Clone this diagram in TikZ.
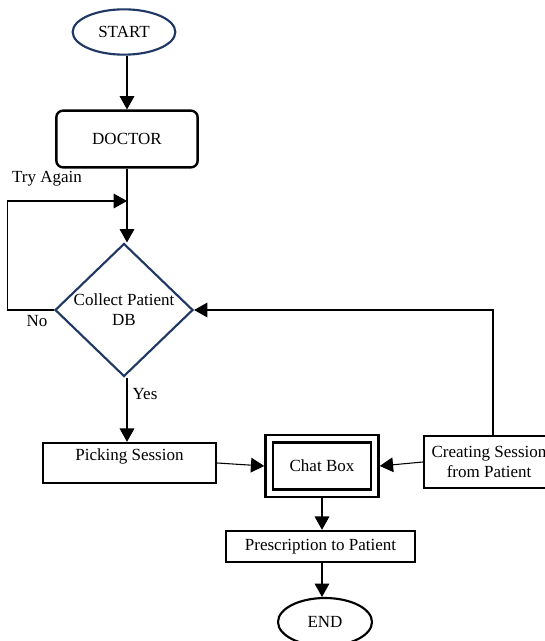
\documentclass[tikz,border=0pt]{standalone}
\usepackage{fontspec}
\setmainfont{Liberation Serif}
\usetikzlibrary{shapes.geometric,arrows.meta}
\definecolor{navy}{RGB}{31,56,100}

\begin{document}
\begin{tikzpicture}[x=0.75pt,y=-0.75pt,
		font=\fontsize{12.75}{15}\selectfont,
		flow/.style={-{Triangle[length=10pt,width=11pt]},line width=0.8pt},
		terminal/.style={ellipse,draw,line width=1.6pt,inner sep=0pt},
		box/.style={rectangle,draw,line width=1.8pt,inner sep=0pt,align=center}]
				\useasboundingbox (0,0) rectangle (544,641);
				% nodes
				\node[terminal,draw=navy,minimum width=77pt,minimum height=34pt] (start) at (124,32) {START};
				\node[box,rounded corners=5pt,minimum width=106pt,minimum height=42.5pt] (doctor) at (127,139) {DOCTOR};
				\node[diamond,draw=navy,line width=1.6pt,align=center,inner sep=-2pt,minimum width=103.5pt,minimum height=99.75pt] (collect) at (124,310) {Collect Patient\\DB};
				\node[box,minimum width=129.75pt,minimum height=30pt,text height=9pt,text depth=13.5pt] (picking) at (129.5,463) {Picking Session};
				\node[box,double,line width=1.8pt,double distance=3.75pt,outer sep=3.8pt,minimum width=79pt,minimum height=41pt] (chat) at (322,466) {Chat Box};
				\node[box,minimum width=97.5pt,minimum height=39pt] (create) at (489,462) {Creating Session\\from Patient};
				\node[box,minimum width=141.75pt,minimum height=23.25pt] (presc) at (320.5,546.5) {Prescription to Patient};
				\node[terminal,minimum width=70.5pt,minimum height=36pt] (end) at (325,622) {END};
				% labels
				\node (tryagain) at (47,179) {Try Again};
				\node (no) at (37,321) {No};
				\node (yes) at (145,394) {Yes};
				\coordinate (tryin) at (127,201);
				% connectors
				\draw[flow] (start.south -| tryin) -- (doctor.north -| tryin);
				\draw[flow] (doctor.south -| tryin) -- (collect.north -| tryin);
				\draw[flow] (collect.west) -- ++(-46,0) |- (tryin);
				\draw[flow] (collect.south -| tryin) -- (picking.north -| tryin);
				\draw[flow] (picking.east) -- (chat.west);
				\draw[flow] (create.west) -- (chat.east);
				\draw[flow] ([xshift=3pt]create.north) |- (collect.east);
				\draw[flow] (chat.south) -- (chat.south |- presc.north);
				\draw[flow] (presc.south -| chat.south) -- (end.north -| chat.south);
			\end{tikzpicture}
\end{document}
